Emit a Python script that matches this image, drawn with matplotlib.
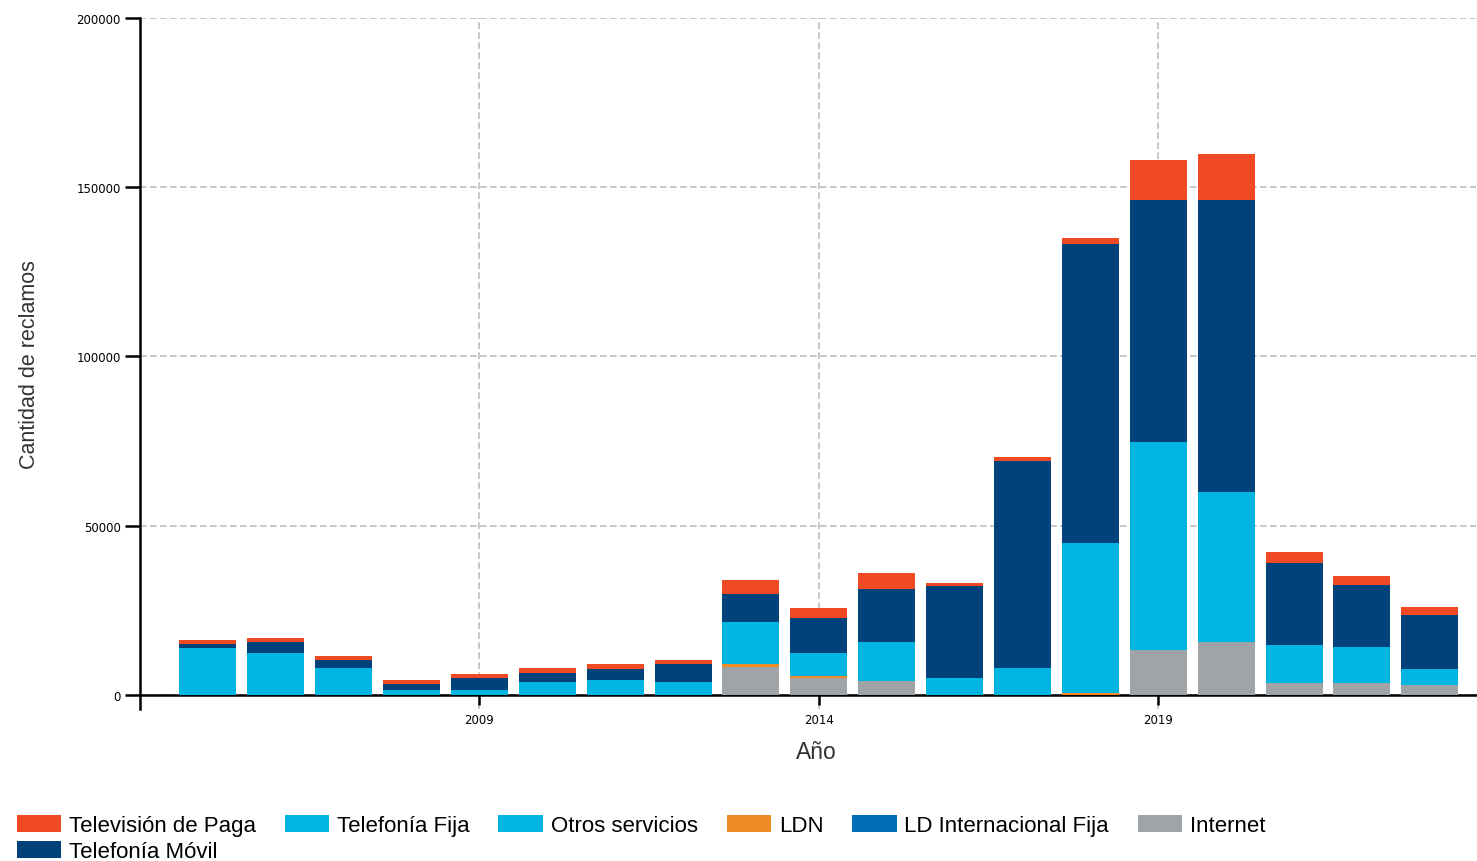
import matplotlib
matplotlib.use("Agg")
import numpy as np
import matplotlib.pyplot as plt
from matplotlib.patches import Patch

# Data
years = list(range(2005, 2024))

internet = [0, 0, 0, 0, 0, 0, 0, 0, 8400, 4900, 4200, 0, 0, 0,
            13300, 15600, 3600, 3600, 3000]
ldn = [0, 0, 0, 0, 0, 0, 0, 0, 600, 600, 0, 0, 0, 600,
       0, 0, 0, 0, 0]
ld_internacional = [0] * 19
otros = [0] * 19
fija = [13800, 12500, 7900, 1400, 1400, 3700, 4300, 3700, 12500, 7000,
        11300, 4900, 7900, 44400, 61300, 44400, 11200, 10600, 4800]
movil = [1200, 3100, 2400, 1700, 3500, 2800, 3500, 5300, 8300, 10200,
         15900, 27200, 61200, 88200, 71600, 86300, 24300, 18300, 15900]
tv_paga = [1300, 1200, 1200, 1200, 1200, 1400, 1200, 1200, 4100, 2900,
           4600, 1100, 1200, 1800, 11800, 13600, 3000, 2500, 2300]

series = [
    ("Internet", internet, "#a1a4a7"),
    ("LDN", ldn, "#f08a24"),
    ("LD Internacional Fija", ld_internacional, "#006db8"),
    ("Otros servicios", otros, "#00b5e2"),
    ("Telefonía Fija", fija, "#00b5e2"),
    ("Telefonía Móvil", movil, "#004279"),
    ("Televisión de Paga", tv_paga, "#ef4a24"),
]
colors = {name: c for name, _, c in series}

W, H = 1477, 862
fig = plt.figure(figsize=(W / 100, H / 100), dpi=100)
ax = fig.add_axes([140 / W, 1 - 709.5 / H, 1336 / W, 690.5 / H])

bottom = np.zeros(len(years))
for name, vals, color in series:
    vals = np.array(vals, dtype=float)
    ax.bar(years, vals, width=0.84, bottom=bottom, color=color,
           linewidth=0, zorder=3)
    bottom += vals

ax.set_xlim(2004, 2023.68)
ax.set_ylim(-4000, 200000)
ax.set_xticks([2009, 2014, 2019])
ax.set_yticks([0, 50000, 100000, 150000, 200000])

ax.grid(True, color="#bdbdbd", linestyle=(0, (4, 2)), linewidth=1.2, zorder=0)

for side in ["top", "right"]:
    ax.spines[side].set_visible(False)
ax.spines["bottom"].set_position(("data", 0))
ax.spines["bottom"].set_linewidth(1.8)
ax.spines["left"].set_linewidth(1.8)

ax.tick_params(axis="y", length=11, width=1.8, labelsize=8.5, pad=3)
ax.tick_params(axis="x", length=7, width=1.8, labelsize=8.5, pad=6)
for lbl in ax.get_xticklabels() + ax.get_yticklabels():
    lbl.set_family("DejaVu Sans")

ax.set_ylabel("Cantidad de reclamos", fontsize=15.5, family="Liberation Sans",
              color="#333333", labelpad=26)
ax.set_xlabel("Año", fontsize=16.5, family="Liberation Sans", color="#333333")
ax.xaxis.set_label_coords(0.506, -0.045)

# Legend: row-wise order, first column holds the two-row entry
legend_order = ["Televisión de Paga", "Telefonía Móvil", "Telefonía Fija",
                "Otros servicios", "LDN", "LD Internacional Fija", "Internet"]
handles = [Patch(facecolor=colors[n], edgecolor="none") for n in legend_order]
fig.legend(handles, legend_order, loc="upper left",
           bbox_to_anchor=(1 / W, 1 - 800 / H), ncol=6, frameon=False,
           prop={"family": "Liberation Sans", "size": 16},
           handlelength=2.0, handleheight=0.85, handletextpad=0.35,
           columnspacing=1.3, labelspacing=0.2, borderpad=0.2)

fig.savefig("out.png", dpi=100)
